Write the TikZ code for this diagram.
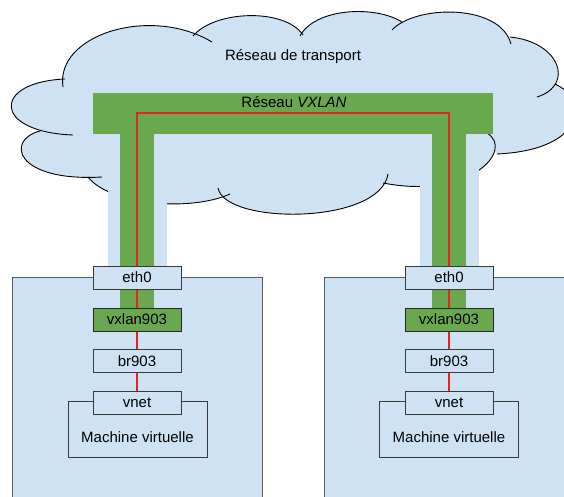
\documentclass[tikz,border=0pt]{standalone}
\usepackage{fontspec}
\setmainfont{Liberation Sans}
\definecolor{lblue}{HTML}{CFE2F3}
\definecolor{vgreen}{HTML}{6AA84F}
\definecolor{vred}{HTML}{E8221C}
\definecolor{bline}{HTML}{3A3A3A}
\pgfdeclarelayer{bg}
\pgfdeclarelayer{mid}
\pgfsetlayers{bg,mid,main}
\begin{document}
\begin{tikzpicture}[x=1pt,y=-1pt,
  txt/.style={font=\fontsize{15}{18}\selectfont, inner sep=0pt},
  iface/.style={draw=bline, line width=1pt, fill=lblue, minimum width=88pt, minimum height=23pt, inner sep=0pt, font=\fontsize{15}{18}\selectfont},
  vmbox/.style={draw=bline, line width=1pt, fill=lblue, minimum width=139pt, minimum height=56pt, inner sep=0pt},
  hostbox/.style={draw=black!65, line width=1pt, fill=lblue, inner sep=0pt},
  cloudline/.style={draw=black, line width=0.9pt},
  redline/.style={draw=vred, line width=1.1pt}]
\clip (0,0) rectangle (564,497);
\useasboundingbox (0,0) rectangle (564,497);
\begin{pgfonlayer}{bg}
% cloud fill
\fill[lblue] (63,87) .. controls (55,35) and (150,5) .. (212,42)
 -- (193,36) .. controls (215,10) and (285,8) .. (303,35)
 -- (300,36) .. controls (315,8) and (375,5) .. (402,22)
 -- (392,30) .. controls (415,5) and (500,3) .. (511,44)
 -- (510,37) .. controls (560,42) and (575,85) .. (537,97)
 -- (555,84) .. controls (590,100) and (585,150) .. (497,154)
 -- (487,133) .. controls (515,150) and (470,200) .. (383,183)
 -- (388,174) .. controls (380,225) and (225,225) .. (218,188)
 -- (230,194) .. controls (190,212) and (110,205) .. (88,177)
 -- (102,177) .. controls (15,182) and (5,140) .. (40,131)
 -- (73,135) .. controls (-8,132) and (-8,82) .. (65,79) -- cycle;
% cloud outline
\draw[cloudline] (63,87) .. controls (55,35) and (150,5) .. (212,42);
\draw[cloudline] (193,36) .. controls (215,10) and (285,8) .. (303,35);
\draw[cloudline] (300,36) .. controls (315,8) and (375,5) .. (402,22);
\draw[cloudline] (392,30) .. controls (415,5) and (500,3) .. (511,44);
\draw[cloudline] (510,37) .. controls (560,42) and (575,85) .. (537,97);
\draw[cloudline] (555,84) .. controls (590,100) and (585,150) .. (497,154);
\draw[cloudline] (487,133) .. controls (515,150) and (470,200) .. (383,183);
\draw[cloudline] (388,174) .. controls (380,225) and (225,225) .. (218,188);
\draw[cloudline] (230,194) .. controls (190,212) and (110,205) .. (88,177);
\draw[cloudline] (102,177) .. controls (15,182) and (5,140) .. (40,131);
\draw[cloudline] (73,135) .. controls (-8,132) and (-8,82) .. (65,79);
% light blue pillars
\fill[lblue] (108,150) rectangle (167,267);
\fill[lblue] (420,150) rectangle (479,267);
% hosts
\node[hostbox, minimum width=250pt, minimum height=233pt] (hostL) at (137,393.5) {};
\node[hostbox, minimum width=266pt, minimum height=233pt] (hostR) at (457,393.5) {};
% VXLAN network
\fill[vgreen] (93,93) rectangle (493,134);
\fill[vgreen] (120,134) rectangle (154,309);
\fill[vgreen] (432,134) rectangle (466,309);
\end{pgfonlayer}
\node[txt] (transport) at (293,57) {Réseau de transport};
\node[txt] (vxlanlbl) at (294,102) {Réseau \textit{VXLAN}};
\coordinate (tl) at (137,113);
\coordinate (tr) at (449,113);
% left host
\node[iface] (ethL) at (137,277.5) {eth0};
\node[iface, fill=vgreen, draw=black!85] (vxL) at (137,319.5) {vxlan903};
\node[iface] (brL) at (137,361) {br903};
\node[vmbox] (vmL) at (137.5,429) {};
\node[txt] (vmtL) at (137.5,437) {Machine virtuelle};
\node[iface] (vnetL) at (137,403) {vnet};
% right host
\node[iface] (ethR) at (449,277.5) {eth0};
\node[iface, fill=vgreen, draw=black!85] (vxR) at (449,319.5) {vxlan903};
\node[iface] (brR) at (449,361) {br903};
\node[vmbox] (vmR) at (449,429) {};
\node[txt] (vmtR) at (449,437) {Machine virtuelle};
\node[iface] (vnetR) at (449,403) {vnet};
\begin{pgfonlayer}{mid}
\draw[redline] (vnetL.north) -- (tl) -- (tr) -- (vnetR.north);
\end{pgfonlayer}
\end{tikzpicture}
\end{document}
